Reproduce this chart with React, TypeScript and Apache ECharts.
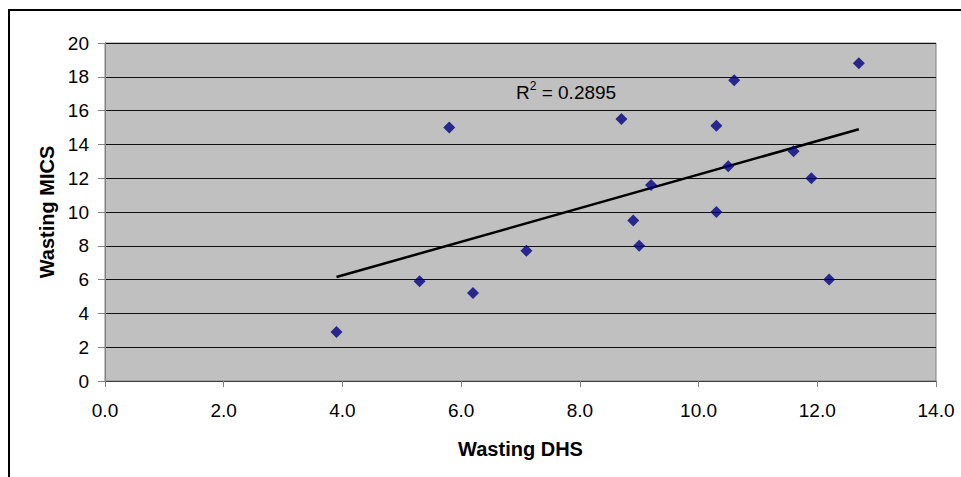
import React, { useEffect, useRef } from "react";
import * as echarts from "echarts";

const wastingDHS = [3.9, 5.3, 5.8, 6.2, 7.1, 8.7, 8.9, 9.0, 9.2, 10.3, 10.3, 10.5, 10.6, 11.6, 11.9, 12.2, 12.7];
const wastingMICS = [2.9, 5.9, 15.0, 5.2, 7.7, 15.5, 9.5, 8.0, 11.6, 15.1, 10.0, 12.7, 17.8, 13.6, 12.0, 6.0, 18.8];
const trendX = [3.9, 12.7];
const trendY = [6.15, 14.9];
const rSquared = "0.2895";
const xTitle = "Wasting DHS";
const yTitle = "Wasting MICS";

export default function App() {
  const ref = useRef<HTMLDivElement>(null);
  useEffect(() => {
    if (!ref.current) return;
    const chart = echarts.init(ref.current, null, { renderer: "svg" });
    const font = "'Liberation Sans', Arial, sans-serif";
    chart.setOption({
      animation: false,
      backgroundColor: "#ffffff",
      grid: {
        left: 105,
        right: 25,
        top: 43,
        bottom: 96,
        show: true,
        backgroundColor: "#C0C0C0",
        borderColor: "#808080",
        borderWidth: 1,
      },
      xAxis: {
        type: "value",
        min: 0,
        max: 14,
        interval: 2,
        name: xTitle,
        nameLocation: "middle",
        nameGap: 58,
        nameTextStyle: { fontFamily: font, fontSize: 20, fontWeight: "bold", color: "#000" },
        axisLine: { show: true, lineStyle: { color: "#404040", width: 1 } },
        axisTick: { show: true, length: 6, lineStyle: { color: "#808080" } },
        axisLabel: {
          fontFamily: font,
          fontSize: 19,
          color: "#000",
          margin: 20,
          formatter: (v: number) => v.toFixed(1),
        },
        splitLine: { show: false },
      },
      yAxis: {
        type: "value",
        min: 0,
        max: 20,
        interval: 2,
        name: yTitle,
        nameLocation: "middle",
        nameGap: 48,
        nameRotate: 90,
        nameTextStyle: { fontFamily: font, fontSize: 20, fontWeight: "bold", color: "#000" },
        axisLine: { show: true, lineStyle: { color: "#808080", width: 1 } },
        axisTick: { show: true, length: 7, lineStyle: { color: "#808080" } },
        axisLabel: { fontFamily: font, fontSize: 19, color: "#000", margin: 16 },
        splitLine: { show: true, lineStyle: { color: "#101010", width: 1 } },
      },
      series: [
        {
          type: "line",
          data: trendX.map((x, i) => [x, trendY[i]]),
          symbol: "none",
          lineStyle: { color: "#000", width: 2.5 },
          z: 2,
        },
        {
          type: "scatter",
          data: wastingDHS.map((x, i) => [x, wastingMICS[i]]),
          symbol: "diamond",
          symbolSize: 12,
          itemStyle: { color: "#000080" },
          z: 3,
        },
      ],
      graphic: [
        {
          type: "rect",
          shape: { x: 9, y: 10, width: 1200, height: 1200 },
          style: { fill: "none", stroke: "#000", lineWidth: 2 },
          silent: true,
        },
        {
          type: "text",
          x: 516,
          y: 80,
          style: {
            text: "{r|R}{s|2}{r| = " + rSquared + "}",
            rich: {
              r: { fontFamily: font, fontSize: 19, fill: "#000", verticalAlign: "bottom", lineHeight: 22 },
              s: { fontFamily: font, fontSize: 12, fill: "#000", verticalAlign: "top", lineHeight: 22 },
            },
          },
          z: 10,
        },
      ],
    });
    return () => chart.dispose();
  }, []);
  return (
    <div style={{ position: "fixed", left: 0, top: 0, width: 961, height: 477, background: "#fff" }}>
      <div ref={ref} style={{ width: 961, height: 477 }} />
    </div>
  );
}
